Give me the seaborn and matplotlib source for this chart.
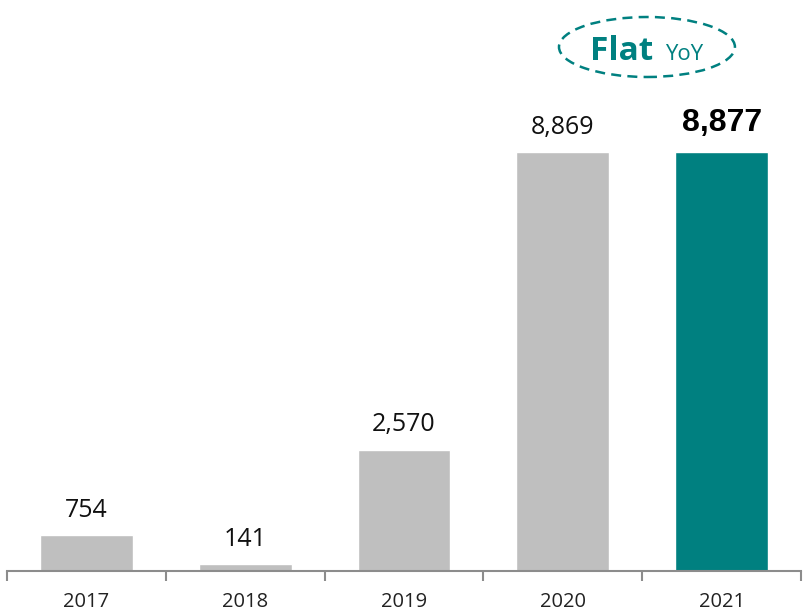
import matplotlib
matplotlib.use("Agg")
import matplotlib.pyplot as plt
from matplotlib.patches import Ellipse
import seaborn as sns

years = ["2017", "2018", "2019", "2020", "2021"]
values = [754, 141, 2570, 8869, 8877]
labels = ["754", "141", "2,570", "8,869", "8,877"]
colors = ["#BFBFBF", "#BFBFBF", "#BFBFBF", "#BFBFBF", "#008080"]

sns.set_style("white")
plt.rcParams["font.family"] = ["Open Sans", "DejaVu Sans"]

fig = plt.figure(figsize=(8.08, 6.16), dpi=100)
ax = fig.add_axes([7 / 808, 45 / 616, 794 / 808, 571 / 616])

sns.barplot(x=years, y=values, hue=years, palette=colors, legend=False,
            width=0.585, saturation=1, ax=ax)

ax.set_xlim(-0.5, 4.5)
ax.set_ylim(0, 12087)

for sp in ["top", "right", "left"]:
    ax.spines[sp].set_visible(False)
ax.spines["bottom"].set_color("#8C8C8C")
ax.spines["bottom"].set_linewidth(1.5)
ax.set_yticks([])

# ticks between categories
ax.set_xticks(range(len(years)))
ax.set_xticklabels(years, fontsize=14.5, color="#222222")
ax.tick_params(axis="x", which="major", length=0, pad=15)
ax.set_xticks([i - 0.5 for i in range(len(years) + 1)], minor=True)
ax.tick_params(axis="x", which="minor", bottom=True, length=7, width=1.5,
               color="#8C8C8C", direction="out")

for i, (v, lab) in enumerate(zip(values, labels)):
    if i == len(values) - 1:
        ax.annotate(lab, (i, v), xytext=(0, 10), textcoords="offset points",
                    ha="center", va="bottom", fontsize=23, fontweight="bold",
                    color="#000000", family=["Liberation Sans", "DejaVu Sans"])
    else:
        ax.annotate(lab, (i, v), xytext=(0, 9), textcoords="offset points",
                    ha="center", va="bottom", fontsize=18, color="#111111")

# "Flat YoY" badge
ell = Ellipse((3.53, 11092), 1.108, 1270, fill=False, edgecolor="#008080",
              linestyle=(0, (4, 2.5)), linewidth=1.8, clip_on=False)
ax.add_patch(ell)
ax.text(3.57, 10810, "Flat", ha="right", va="baseline", fontsize=24,
        fontweight="bold", color="#008080")
ax.text(3.645, 10810, "YoY", ha="left", va="baseline", fontsize=16,
        color="#008080")

fig.savefig("out.png", dpi=100)
